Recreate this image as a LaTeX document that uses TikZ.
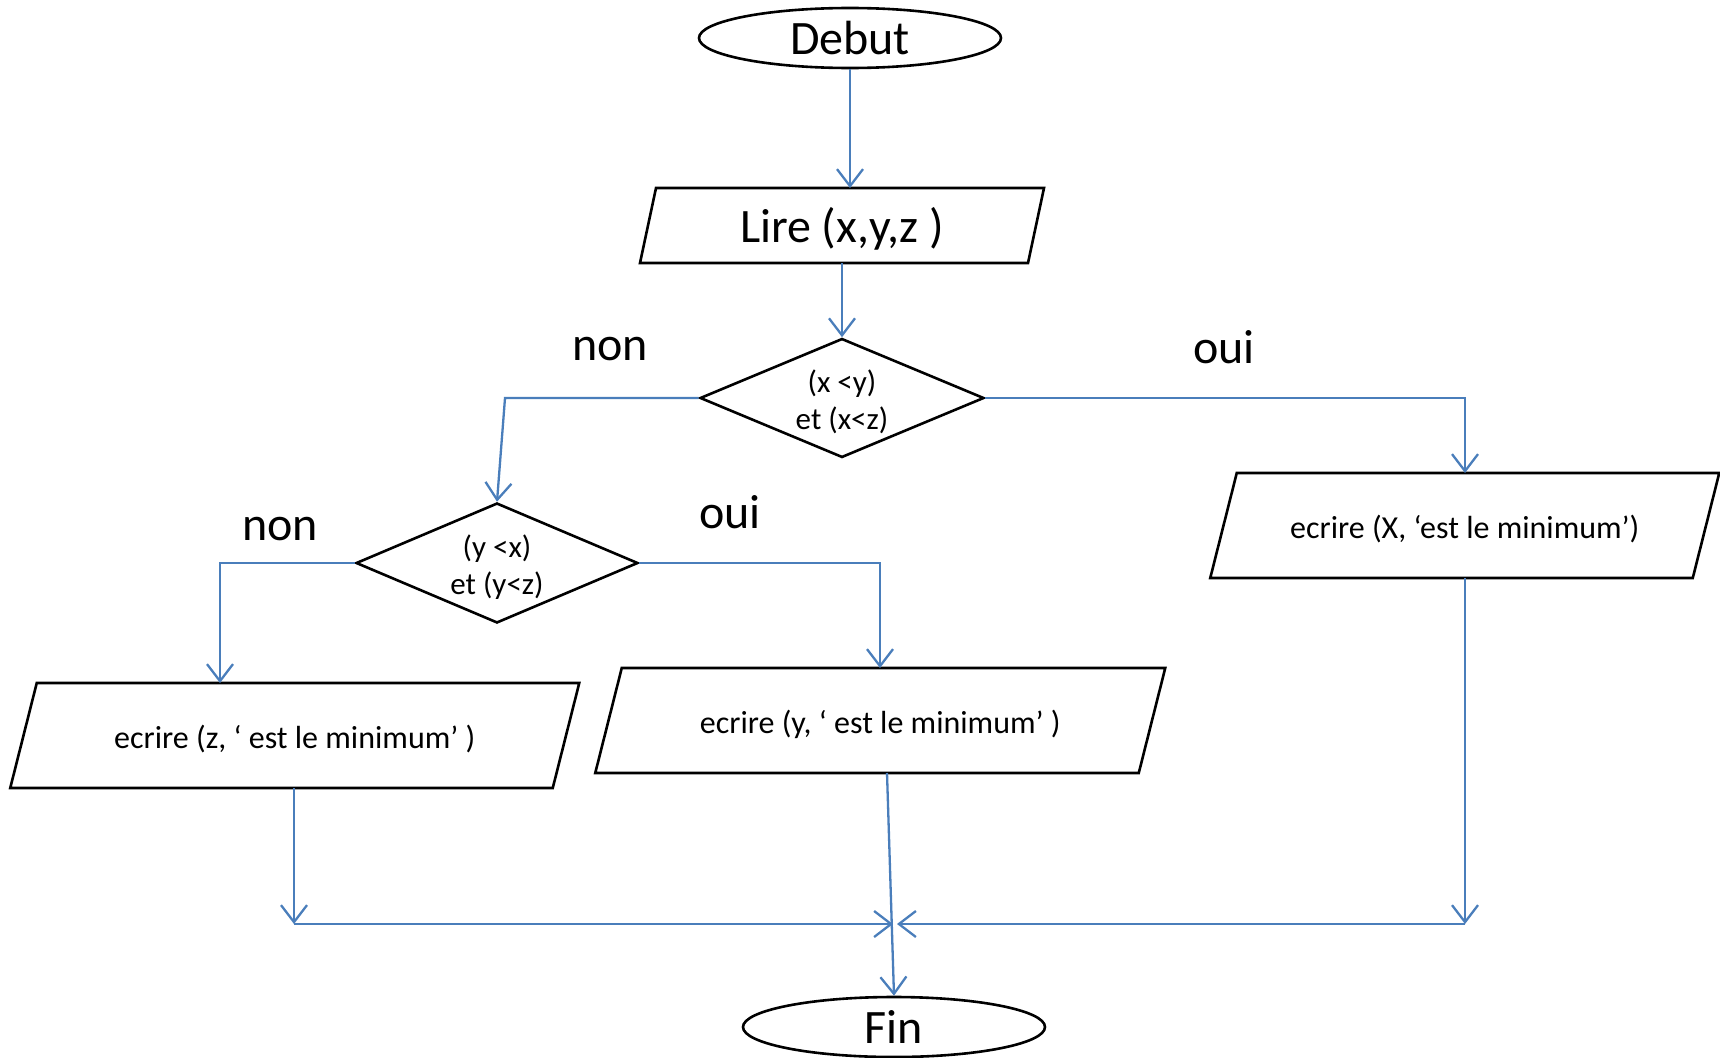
\documentclass[tikz,border=0pt]{standalone}
\usepackage{fontspec}
\setmainfont{Carlito}
\usetikzlibrary{shapes.geometric,arrows.meta,calc}
\definecolor{linkblue}{HTML}{4A7EBB}
\tikzset{
  shapeline/.style={draw=black, line width=2.6pt, line join=miter},
  terminal/.style={shapeline, ellipse, inner sep=0pt, minimum width=302pt, minimum height=60pt,
    font=\fontsize{48}{56}\selectfont},
  iobody/.style={rectangle, inner sep=0pt, outer sep=0pt},
  decision/.style={shapeline, diamond, inner sep=0pt, aspect=2.37, align=center,
    font=\fontsize{31}{37}\selectfont},
  link/.style={draw=linkblue, line width=2.3pt,
    -{Straight Barb[length=17pt,width=26pt,line width=2.3pt]}},
  branch/.style={font=\fontsize{48}{56}\selectfont},
}
% slanted frame of an input/output box: #1 node name, #2 horizontal slant
\newcommand\ioframe[2]{%
  \draw[shapeline] ([xshift=#2/2]#1.north west) -- ([xshift=#2/2]#1.north east)
    -- ([xshift=-#2/2]#1.south east) -- ([xshift=-#2/2]#1.south west) -- cycle;}
\begin{document}
\begin{tikzpicture}[x=1pt,y=-1pt]
\useasboundingbox (0,0) rectangle (1720,1057);

% terminals
\node[terminal] (debut) at (850,38) {Debut};
\node[terminal] (fin) at (894,1027) {Fin};

% input
\node[iobody, minimum width=388pt, minimum height=75pt, text height=43pt, text depth=9pt,
  font=\fontsize{48}{56}\selectfont] (lire) at (842,225.5) {Lire (x,y,z )};
\ioframe{lire}{16}

% decisions
\node[decision, minimum width=284pt, minimum height=119pt] (d1) at (842,398)
  {\rule{0pt}{30pt}(x <y)\\et (x<z)};
\node[decision, minimum width=282pt, minimum height=120pt] (d2) at (497,563)
  {\rule{0pt}{30pt}(y <x)\\et (y<z)};

% outputs
\tikzset{outtext/.style={iobody, minimum height=105pt, text height=31pt, text depth=6pt,
  font=\fontsize{32}{38}\selectfont}}
\node[outtext, minimum width=482.5pt] (outx) at (1464.75,525.5) {ecrire (X, ‘est le minimum’)};
\ioframe{outx}{26.5}
\node[outtext, minimum width=543.5pt] (outy) at (880.25,720.5) {ecrire (y, ‘ est le minimum’ )};
\ioframe{outy}{26.5}
\node[outtext, minimum width=542.5pt] (outz) at (294.75,735.5) {ecrire (z, ‘ est le minimum’ )};
\ioframe{outz}{26.5}

% branch labels
\node[branch] (n1) at (610,349) {non};
\node[branch] (o1) at (1224,347) {oui};
\node[branch] (n2) at (280,529) {non};
\node[branch] (o2) at (730,512) {oui};

% bend and junction points
\coordinate (k1) at (505,398);
\coordinate (k2) at (1465,398);
\coordinate (k3) at (220,563);
\coordinate (k4) at (880,563);
\coordinate (m1) at (887,773);
\coordinate (c1) at (294,924);
\coordinate (c3) at (1465,924);
\coordinate (jl) at (893,924);
\coordinate (jr) at (897,924);

% connectors
\draw[link] (debut.south) -- (debut.south |- lire.north);
\draw[link] (d1.north |- lire.south) -- (d1.north);
\draw[link] (d1.west) -- (k1) -- (d2.north);
\draw[link] (d1.east) -- (k2) -- (k2 |- outx.north);
\draw[link] (d2.west) -- (k3) -- (k3 |- outz.north);
\draw[link] (d2.east) -- (k4) -- (k4 |- outy.north);
\draw[link] (c1 |- outz.south) -- (c1);
\draw[link] (c3 |- outx.south) -- (c3);
\draw[link] (c1) -- (jl);
\draw[link] (c3) -- (jr);
\draw[link] (m1) -- (fin.north);
\end{tikzpicture}
\end{document}
